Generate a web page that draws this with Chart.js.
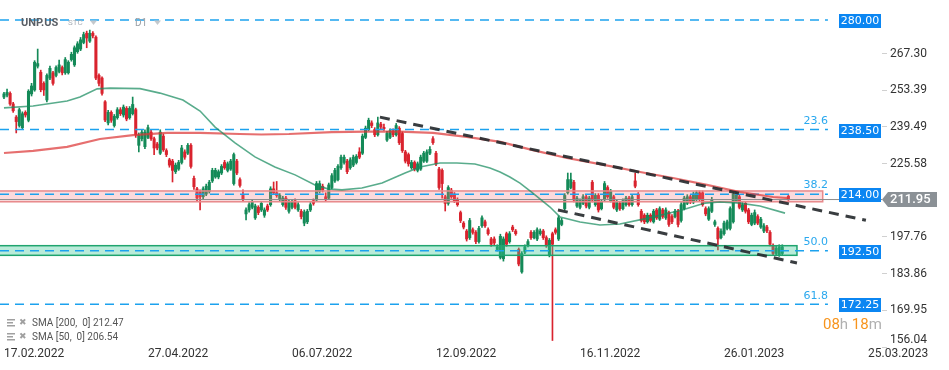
<!DOCTYPE html>
<html>
<head>
<meta charset="utf-8">
<script src="https://cdn.jsdelivr.net/npm/chart.js@4.4.1/dist/chart.umd.min.js"></script>
<style>
  html, body { margin: 0; padding: 0; background: #fff; }
</style>
</head>
<body>
<canvas id="unpChart" width="949" height="370"></canvas>
<script>
// daily candles, one slot per trading day starting 17.02.2022 (null = empty slot)
const OPEN = [
  250.8, 251.5, 252.2, 248.2, 243.2, 240, 239.2, 245, 242, 252, 253.5, 262.5, 260.2, 256, 249.7, 258, 260, 259, 260.5, 262, 260,
  260, 265, 263, 268, 269, 271.5, 275, 272, 275,
  273.5, 259, 258, 249, 241, 245, 240, 243, 246, 244,
  246.5, 243, 244.5, 246, 232.5, 235, 232, 235.5, 237.5, 235,
  233, 229.5, 236, 230.5, 227, 226.5, 222.5, 223.5, 226, 230,
  229.5, 232.5, 220, 216, 215, 213, 214, 215, 219, 220.5,
  220.5, 222, 226, 223, 223.5, 218, 226.5, 219.5, 213.5,
  206.5, 208, 209, 205, 209, 208, 206, 209.5, 210, 216,
  214.5, 212, 210, 212.5, 207.5, 209, 211.5, 208, 207.5, 203,
  203.5, 208, 211.5, 211.8, 215, 217, 213, 212.5, 216.5, 219,
  219.5, 224, 226, 226.5, 224, 225, 226, 230,
  229.5, 235.5, 238.5, 241, 238.5, 236.5, 240.5, 239.3, 234.5, 235.5, 238,
  236.5, 239, 237, 230, 229, 224, 226, 223, 223.5, 226.5,
  226.5, 229.5, 235, 229.5, 223.5, 223, 213, 210.5, 215.5, 214,
  212, 207, 203, 200, 197.5, 200.5, 199.5, 196, 202, 203.5,
  200.5, 197, 197, 193, 190, 189.5, 199, 196, 201.5, 200,
  193, 184.5, 192, 194.5, 199.5, 197.5, 197, 199, 200,
  197.5, 191, 199, 200.5, 197, 202.5, 208.5, 214.5, 216.5, 218.5,
  209.5, 209, 210.5, 213, 209, 218.5, 210, 213.5, 208.5, 212,
  216.5, 211.5, 213, 208, 210.5, 208.5, 210, 212.5, 210, 219,
  214, 207.5, 206, 203.5, 206, 203.5,
  208, 204.5, 208, 205, 207, 205.5, 205.5, 207.5, 204, 208.5, 210.5, 213, 211,
  212, 214.5, 214.5, 208.5, 204.5, 207.5, 202.5, 201, 197.5, 199,
  201, 201, 203.5, 211.5, 213, 208, 210.5, 208, 202.5, 203,
  205.5, 201.5, 200, 201.5, 199.5, 194.5, 191.5, 191, 191.5,
  null, 213.2
];
const CLOSE = [
  252, 252.6, 248.2, 245.6, 241.5, 246, 244.5, 244, 253, 255, 264, 263.5, 253.6, 253.5, 259, 261.7, 256, 262, 263, 260, 265,
  264, 267, 269.5, 271, 272.5, 274.5, 273.2, 275, 274,
  258, 256, 252.2, 242.1, 245, 242, 243.5, 246, 244.5, 247,
  242.5, 246.5, 248, 236.5, 236.5, 237.5, 237.5, 239.2, 235, 231.5,
  231.5, 237.5, 230.8, 229, 225, 223, 225, 226, 231.5, 228,
  232.5, 224.5, 216.8, 212.5, 213, 216, 217, 218.5, 223, 223,
  222.5, 224.5, 224, 225.5, 226.5, 229, 222, 217.3, 212,
  208, 210, 211, 209.5, 207, 210.5, 208, 208, 216, 214.5,
  213.5, 213.5, 212.5, 209, 211, 211, 209, 210, 205.5, 207.2,
  207.5, 210, 210.5, 218, 218, 215.5, 212, 217.5, 221, 223,
  224.5, 228, 228, 222.5, 227, 228, 228.3, 228,
  236, 239, 242, 240, 236.5, 241, 239.5, 238.8, 237, 238, 236.5,
  240, 233.5, 230.5, 226.5, 225.5, 226, 223.5, 225.5, 228, 229.5,
  230, 231, 233.5, 225.5, 216.5, 218, 210.5, 216.5, 213, 211.5,
  210, 204, 201.5, 197, 204, 199.5, 196, 201, 205, 202,
  199, 195, 195.5, 194, 198, 197, 195, 199, 200.5, 199,
  187.5, 191.5, 194, 196, 197.5, 199.5, 200.5, 200, 197.5,
  194.5, 196.5, 195, 199.5, 205, 204, 213.5, 219.5, 219.5, 211.8,
  212.5, 211.5, 213, 209.5, 212.5, 211.8, 213.5, 208, 211, 218,
  213, 215, 209, 211, 208.5, 211.5, 212.5, 210, 213, 217,
  210, 204, 203.5, 206, 204, 207.5,
  205, 208.5, 205.5, 208, 202.5, 203.5, 207.5, 202.5, 210, 212.5, 213, 211, 214,
  214.5, 212, 210, 206.5, 208.5, 212, 203.5, 197, 200, 203,
  203.5, 208.5, 214, 214, 209, 210, 207.5, 203.5, 206, 207,
  203, 204.5, 202, 200, 195, 191.5, 193.5, 194, 194,
  null, 211.95
];
const HIGH = [
  252.6, 253.8, 252.8, 248.8, 243.8, 246.6, 245.2, 245.6, 253.6, 256, 264.6, 269, 261, 256.6, 259.6, 262.5, 260.6, 262.6, 264.8, 262.6, 265.8,
  264.6, 267.8, 270.2, 271.8, 273.4, 275.4, 275.8, 276.2, 275.6,
  274, 259.6, 258.5, 249.5, 245.8, 245.6, 244.2, 246.8, 246.8, 247.8,
  247.2, 247.2, 250.8, 246.6, 237.2, 238.2, 238.4, 240.2, 238.2, 235.6,
  233.6, 238.4, 236.8, 231.2, 227.6, 227.2, 225.8, 226.8, 232.5, 230.8,
  233.2, 233.2, 220.8, 216.6, 215.6, 216.8, 217.8, 219.2, 223.8, 223.8,
  223.2, 225.2, 226.8, 226.2, 227.2, 229.6, 227.2, 220.2, 215.6,
  208.8, 210.8, 211.8, 210.2, 209.6, 211.2, 208.8, 210.2, 216.8, 218.6,
  218.8, 214.2, 213.2, 213.2, 211.8, 211.8, 212.2, 210.8, 208.2, 208,
  208.2, 210.8, 212.2, 218.8, 219, 217.8, 214.5, 218.2, 221.8, 223.8,
  225.2, 228.8, 228.8, 227.2, 227.8, 228.8, 229, 231.6,
  236.8, 239.8, 242.8, 241.8, 239.2, 243.2, 241.2, 240.6, 237.8, 238.8, 238.8,
  240.8, 239.6, 237.6, 230.6, 229.6, 226.8, 226.6, 226.2, 228.8, 230.2,
  230.8, 232, 235.8, 230.2, 224.2, 223.6, 213.6, 217.2, 216.2, 214.6,
  212.6, 207.6, 203.6, 200.6, 204.8, 201.2, 200.2, 201.8, 205.8, 204.2,
  201.2, 197.6, 197.8, 194.8, 198.8, 197.8, 199.6, 199.8, 202.2, 200.6,
  193.6, 192.2, 194.8, 196.8, 200.2, 200.2, 201.2, 200.8, 200.6,
  198.2, 197.2, 199.6, 201.2, 205.8, 204.8, 214.2, 222, 222, 219.2,
  213.2, 212.2, 213.8, 213.6, 213.2, 219.2, 214.2, 214.2, 211.8, 218.8,
  217.2, 215.8, 213.6, 211.8, 211.2, 212.2, 213.2, 213.2, 213.8, 222,
  214.6, 208.2, 206.6, 206.8, 206.6, 208.2,
  208.6, 209.2, 208.6, 208.8, 207.6, 206.2, 208.2, 208.2, 210.8, 213.2, 213.8, 213.6, 214.8,
  215.2, 215.2, 215.2, 209.2, 209.2, 212.8, 204.2, 201.6, 200.8, 203.8,
  204.2, 209.2, 214.8, 214.8, 213.6, 210.8, 211.2, 208.6, 206.8, 208,
  206.2, 205.2, 202.8, 202.2, 200.2, 195.2, 194.2, 194.8, 194.8,
  null, 213.6
];
const LOW = [
  250.2, 250.9, 247.6, 245, 237.2, 239.4, 238.6, 243.2, 241.4, 251.2, 253, 261.8, 252.8, 251.4, 249, 257.4, 255.3, 258.4, 260, 259.2, 259.4,
  259.5, 264.4, 262.4, 267.4, 268.4, 271, 269.5, 271.5, 273.2,
  257.4, 255, 251.5, 241.5, 240.2, 241.2, 239.4, 242.4, 243.8, 243.2,
  241.8, 242.4, 244, 235.5, 230, 234.2, 231.2, 235, 234.4, 229,
  230.8, 229, 230.2, 228.2, 224.2, 218.6, 221.8, 223, 225.4, 227.2,
  229, 223.8, 215.8, 211.4, 208, 212.2, 213.4, 214.4, 218.4, 220,
  219.8, 221.4, 223.4, 222.4, 223, 217.4, 221.4, 216.6, 211.2,
  204.2, 207.2, 208.4, 204.4, 206.2, 207.4, 205.2, 207.4, 209.4, 213.8,
  212.8, 211.4, 209.4, 208.2, 206.8, 208.4, 208.4, 207.4, 204.6, 202,
  202.8, 207.4, 209.8, 211.2, 214.4, 214.8, 211.2, 212, 216, 218.4,
  219, 223.4, 225.4, 221.8, 223.4, 224.4, 225.4, 227.4,
  229, 235, 238, 239.2, 235.8, 236, 238.8, 238.2, 234, 235, 235.8,
  236, 232.8, 229.8, 225.8, 224.6, 223.4, 222.8, 222.4, 223, 226,
  226, 229, 232.8, 224.8, 215.8, 212.5, 207.6, 209.8, 212.4, 210.8,
  209.4, 203.2, 200.8, 196.2, 196.8, 198.8, 195.2, 195.4, 201.4, 201.4,
  198.4, 194.2, 194.8, 192.4, 189.4, 188.6, 194.2, 195.4, 199.8, 198.4,
  186.8, 184, 191.4, 194, 196.8, 197, 196.4, 198.4, 196.8,
  193.8, 190.2, 158.5, 198.8, 196.4, 202, 208, 214, 216, 211,
  209, 208.4, 210, 208.8, 208.4, 211, 209.4, 207.2, 208, 211.4,
  212.4, 211, 208.4, 207.4, 207.8, 208, 209.4, 209.4, 209.4, 216.4,
  209.4, 203.4, 202.8, 203, 203.4, 203,
  204.4, 204, 204.8, 204.4, 201.8, 202.8, 205, 201.6, 203.4, 208, 210, 210.4, 210.4,
  211.4, 211.4, 209.4, 205.8, 204, 207, 201.8, 192.8, 197, 198.4,
  200.4, 200.4, 203, 211, 208.4, 207.4, 206.8, 202.8, 202, 202.4,
  202.4, 201, 199.4, 199.4, 194.4, 190.8, 190.8, 190.4, 190.8,
  null, 211.6
];

// moving averages (slot index, value)
const SMA200_AT = [0, 9.5, 20.6, 31.3, 42.1, 53.2, 64, 77, 84, 93, 107, 118.5, 129, 140, 151, 162, 172.6, 183.7, 194.5, 207.6, 218.3, 229.4, 240.2, 251, 256];
const SMA200 = [229.6, 230.4, 231.9, 234.9, 236.4, 237.2, 237.2, 236.8, 236.6, 236.8, 237.5, 237.7, 237.7, 237.2, 235.7, 233.8, 230.7, 227.7, 225.4, 222.4, 220.1, 217.5, 214.8, 212.9, 212.5];
const SMA50_AT = [0, 9.5, 20.6, 24.8, 30.4, 34.6, 44.4, 50.9, 58.4, 64, 68.9, 75.4, 81.9, 88.4, 95, 101.5, 105.7, 110.3, 116.8, 123.4, 130.9, 135.8, 142.3, 147.8, 153.7, 158.6, 161.9, 165.1, 168.4, 172.6, 178.2, 181.5, 188, 194.5, 201, 210.2, 221.3, 228.8, 233.7, 240.2, 246.7, 254.9];
const SMA50 = [246.7, 247.4, 249.3, 250.8, 253.9, 254.2, 254.0, 252.3, 249.7, 245.5, 239.4, 233.4, 228.1, 224.3, 221.3, 217.5, 216.0, 215.6, 216.3, 218.2, 222.0, 224.3, 225.8, 225.8, 225.4, 223.9, 222.4, 220.5, 218.2, 214.4, 209.1, 205.3, 203.4, 202.3, 202.7, 204.9, 208.0, 210.6, 211.0, 210.6, 209.5, 206.8];

// drawn objects
const TREND_UPPER = [[122.7, 243.2], [281.3, 204.1]];
const TREND_LOWER = [[180.8, 208.0], [258.8, 187.9]];
const LEVELS = [280, 238.5, 214, 192.5, 172.25];
const LEVEL_END = 268.9;
const FIB_LEVELS = [238.5, 214, 192.5, 172.25];
const FIB_TEXT = ['23.6', '38.2', '50.0', '61.8'];
const ZONE_LOW = [211.1, 190.8];
const ZONE_HIGH = [215.2, 194.45];
const ZONE_END = [267.2, 258.8];
const LAST_PRICE = 211.95;
const SMA200_LAST = 212.47;
const SMA50_LAST = 206.54;

// axes
const DATE_TICKS = [0, 47, 94, 141, 188, 235, 282];
const DATE_LABELS = ['17.02.2022', '27.04.2022', '06.07.2022', '12.09.2022', '16.11.2022', '26.01.2023', '25.03.2023'];
const PRICE_TICKS = [156.04, 169.95, 183.86, 197.76, 225.58, 239.49, 253.39, 267.30];
const X_MIN = -1.3, X_MAX = 286.55;
const Y_MIN = 156.04, Y_MAX = 287.6;

const UP = '#148a58';
const DOWN = '#d9232e';
const ZONE_FILL = ['rgba(240,120,125,0.27)', 'rgba(60,200,150,0.36)'];
const ZONE_EDGE = ['#e88a8c', '#1fa46e'];

Chart.defaults.font.family = 'Roboto, "DejaVu Sans", sans-serif';

const wickData = [];
const bodyData = [];
OPEN.forEach((o, i) => {
    if (o === null) return;
    const up = CLOSE[i] >= o;
    wickData.push({ x: i, y: [LOW[i], HIGH[i]], up: up });
    bodyData.push({ x: i, y: [o, CLOSE[i]], up: up });
});

const candleColor = (c) => (c.raw && c.raw.up) ? UP : DOWN;
const hLine = (v, x0, x1) => [{ x: x0, y: v }, { x: x1, y: v }];

const overlays = {
    id: 'overlays',
    afterDatasetDraw(chart, args) {
        // zones sit over the candles but under the lines
        if (args.index !== 1) return;
        const { ctx, chartArea: a, scales: { x, y } } = chart;
        ctx.save();
        ZONE_LOW.forEach((lo, k) => {
            const top = y.getPixelForValue(ZONE_HIGH[k]);
            const bot = y.getPixelForValue(lo);
            const right = x.getPixelForValue(ZONE_END[k]);
            ctx.fillStyle = ZONE_FILL[k];
            ctx.fillRect(a.left, top, right - a.left, bot - top);
            ctx.strokeStyle = ZONE_EDGE[k];
            ctx.lineWidth = 1.5;
            ctx.strokeRect(a.left - 2, top, right - a.left + 2, bot - top);
        });
        ctx.restore();
    },
    afterDraw(chart) {
        const { ctx, chartArea: a, scales: { y } } = chart;
        ctx.save();

        // blue level tags
        ctx.font = '11px "DejaVu Sans"';
        ctx.textAlign = 'center';
        ctx.textBaseline = 'middle';
        LEVELS.forEach(v => {
            const py = Math.round(y.getPixelForValue(v)) + 1;
            ctx.fillStyle = '#0b86f2';
            ctx.fillRect(a.right - 43, py - 7, 42, 14);
            ctx.fillStyle = '#ffffff';
            ctx.fillText(v.toFixed(2), a.right - 22, py + 0.5);
        });

        // fibo captions
        ctx.font = '11px "DejaVu Sans"';
        ctx.textAlign = 'right';
        ctx.fillStyle = '#2aa8ee';
        FIB_LEVELS.forEach((v, k) => {
            ctx.fillText(FIB_TEXT[k], a.right - 54, y.getPixelForValue(v) - 8.5);
        });

        // last price tag
        const lp = y.getPixelForValue(LAST_PRICE);
        ctx.fillStyle = '#8b9196';
        ctx.beginPath();
        ctx.moveTo(a.right, lp);
        ctx.lineTo(a.right + 6, lp - 7.5);
        ctx.lineTo(a.right + 55, lp - 7.5);
        ctx.lineTo(a.right + 55, lp + 7.5);
        ctx.lineTo(a.right + 6, lp + 7.5);
        ctx.closePath();
        ctx.fill();
        ctx.fillStyle = '#ffffff';
        ctx.font = '500 13px Roboto';
        ctx.textAlign = 'left';
        ctx.fillText(LAST_PRICE.toFixed(2), a.right + 8, lp + 0.5);

        // bottom price tick, lifted so it clears the date
        ctx.fillStyle = '#333333';
        ctx.font = '12px Roboto';
        ctx.fillText(PRICE_TICKS[0].toFixed(2), a.right + 8, y.getPixelForValue(PRICE_TICKS[0]) - 7);

        // header
        ctx.font = 'bold 11px Roboto';
        ctx.fillStyle = '#5a5f66';
        ctx.fillText('UNP.US', 21, 23);
        ctx.font = '8px Roboto';
        ctx.fillStyle = '#a9b0b8';
        ctx.fillText('STC', 68, 23);
        ctx.font = '10px Roboto';
        ctx.fillStyle = '#9aa0a6';
        ctx.fillText('D1', 135, 23);
        ctx.fillStyle = '#c4c8cc';
        [90, 154].forEach(cx => {
            ctx.beginPath();
            ctx.moveTo(cx, 20.5);
            ctx.lineTo(cx + 7, 20.5);
            ctx.lineTo(cx + 3.5, 25);
            ctx.closePath();
            ctx.fill();
        });

        // indicator legend
        const rows = [['SMA [200,  0]', SMA200_LAST], ['SMA [50,  0]', SMA50_LAST]];
        rows.forEach((r, k) => {
            const ry = 323 + k * 14;
            ctx.fillStyle = '#a0a0a0';
            ctx.fillRect(7, ry - 4, 8, 1.5);
            ctx.fillRect(7, ry - 1, 6, 1.5);
            ctx.fillRect(7, ry + 2, 8, 1.5);
            ctx.font = '9px "DejaVu Sans"';
            ctx.fillText('\u2716', 19, ry);
            ctx.font = '10px Roboto';
            ctx.fillStyle = '#555555';
            ctx.fillText(r[0] + ' ' + r[1].toFixed(2), 32, ry);
        });

        // candle countdown
        ctx.font = '15px Roboto';
        let cx = 823;
        [['08', '#f7941d'], ['h', '#b0b0b0'], [' 18', '#f7941d'], ['m', '#b0b0b0']].forEach(p => {
            ctx.fillStyle = p[1];
            ctx.fillText(p[0], cx, 325);
            cx += ctx.measureText(p[0]).width;
        });

        ctx.restore();
    }
};

const ctx = document.getElementById('unpChart').getContext('2d');
new Chart(ctx, {
    type: 'bar',
    data: {
        datasets: [
            { type: 'bar', data: wickData, backgroundColor: candleColor, barThickness: 1, grouped: false, order: 7 },
            { type: 'bar', data: bodyData, backgroundColor: candleColor, barThickness: 2.4, grouped: false, order: 6 },
            ...LEVELS.map(v => ({
                type: 'line', data: hLine(v, X_MIN, LEVEL_END), borderColor: '#1ca2ee',
                borderWidth: 1.5, borderDash: [9, 6], pointRadius: 0, order: 5
            })),
            { type: 'line', data: hLine(LAST_PRICE, X_MIN, X_MAX), borderColor: '#8c8c8c', borderWidth: 1, pointRadius: 0, order: 4 },
            {
                type: 'line', data: SMA200_AT.map((x, k) => ({ x: x, y: SMA200[k] })),
                borderColor: 'rgba(220,55,55,0.72)', borderWidth: 2.2, pointRadius: 0, order: 3
            },
            {
                type: 'line', data: SMA50_AT.map((x, k) => ({ x: x, y: SMA50[k] })),
                borderColor: 'rgba(25,140,95,0.72)', borderWidth: 1.6, pointRadius: 0, order: 2
            },
            ...[TREND_UPPER, TREND_LOWER].map(t => ({
                type: 'line', data: t.map(p => ({ x: p[0], y: p[1] })), borderColor: 'rgba(40,44,48,0.92)',
                borderWidth: 3, borderDash: [10, 7], pointRadius: 0, order: 1
            }))
        ]
    },
    options: {
        responsive: false,
        animation: false,
        events: [],
        layout: { padding: 0 },
        plugins: { legend: { display: false }, tooltip: { enabled: false } },
        scales: {
            x: {
                type: 'linear',
                min: X_MIN,
                max: X_MAX,
                offset: false,
                grid: { display: false, drawTicks: false },
                border: { display: false },
                afterBuildTicks: s => { s.ticks = DATE_TICKS.map(v => ({ value: v })); },
                afterFit: s => { s.height = 23; s.paddingLeft = 0; s.paddingRight = 0; },
                ticks: {
                    autoSkip: false,
                    maxRotation: 0,
                    align: 'start',
                    padding: 0,
                    color: '#333333',
                    font: { size: 12 },
                    callback: v => DATE_LABELS[DATE_TICKS.indexOf(v)] || ''
                }
            },
            y: {
                position: 'right',
                min: Y_MIN,
                max: Y_MAX,
                grid: { drawOnChartArea: false, drawTicks: true, tickLength: 5, color: '#d0d0d0' },
                border: { display: false },
                afterBuildTicks: s => { s.ticks = PRICE_TICKS.map(v => ({ value: v })); },
                afterFit: s => { s.width = 67; s.paddingTop = 0; s.paddingBottom = 0; },
                ticks: {
                    autoSkip: false,
                    padding: 3,
                    color: '#333333',
                    font: { size: 12 },
                    callback: v => v === PRICE_TICKS[0] ? '' : v.toFixed(2)
                }
            }
        }
    },
    plugins: [overlays]
});
</script>
</body>
</html>
